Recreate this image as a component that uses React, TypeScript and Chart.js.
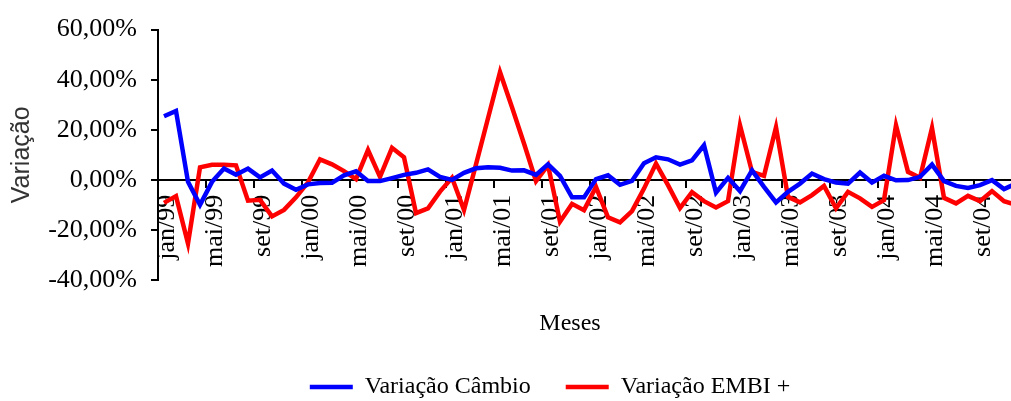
import React, { useEffect, useRef } from "react";
import { Chart, registerables } from "chart.js";

Chart.register(...registerables);

const categories = [
  "jan/99","fev/99","mar/99","abr/99","mai/99","jun/99","jul/99","ago/99","set/99","out/99","nov/99","dez/99",
  "jan/00","fev/00","mar/00","abr/00","mai/00","jun/00","jul/00","ago/00","set/00","out/00","nov/00","dez/00",
  "jan/01","fev/01","mar/01","abr/01","mai/01","jun/01","jul/01","ago/01","set/01","out/01","nov/01","dez/01",
  "jan/02","fev/02","mar/02","abr/02","mai/02","jun/02","jul/02","ago/02","set/02","out/02","nov/02","dez/02",
  "jan/03","fev/03","mar/03","abr/03","mai/03","jun/03","jul/03","ago/03","set/03","out/03","nov/03","dez/03",
  "jan/04","fev/04","mar/04","abr/04","mai/04","jun/04","jul/04","ago/04","set/04","out/04","nov/04","dez/04",
];

const variacaoCambio = [
  25.4, 27.5, -0.8, -10.0, -0.8, 4.5, 2.0, 4.5, 1.0, 3.7, -1.5, -4.0,
  -1.8, -1.3, -1.2, 1.8, 3.4, -0.5, -0.5, 0.7, 2.0, 2.8, 4.2, 1.2,
  0.0, 2.8, 4.6, 5.0, 4.8, 3.7, 3.8, 2.0, 6.2, 1.6, -7.0, -7.0,
  0.3, 1.8, -2.0, -0.4, 6.6, 9.0, 8.2, 6.1, 7.8, 13.8, -5.1, 0.8,
  -4.5, 3.8, -2.8, -9.0, -4.8, -1.5, 2.5, 0.3, -1.1, -1.5, 2.9, -1.1,
  1.6, -0.2, -0.1, 1.2, 6.1, -0.5, -2.4, -3.2, -2.1, -0.1, -3.7, -1.5,
];

const variacaoEmbi = [
  -9.2, -6.5, -25.4, 5.0, 6.0, 6.0, 5.8, -8.3, -8.0, -14.6, -12.0, -7.0,
  -1.0, 8.2, 6.2, 3.5, 0.3, 11.9, 1.2, 12.8, 9.0, -13.3, -11.4, -4.7,
  0.8, -12.1, 6.2, 24.6, 43.0, 29.0, 14.5, -0.5, 5.9, -16.7, -9.6, -12.1,
  -2.8, -15.0, -17.0, -12.5, -3.5, 6.5, -2.1, -11.3, -4.9, -8.5, -11.0, -8.5,
  21.8, 3.2, 1.6, 21.0, -6.8, -9.0, -6.1, -2.4, -11.4, -4.8, -7.4, -10.8,
  -8.1, 21.8, 3.2, 0.8, 20.7, -7.2, -9.4, -6.4, -8.5, -4.5, -8.5, -10.0,
];

const seriesNames = ["Variação Câmbio", "Variação EMBI +"];
const yTickValues = [-40, -20, 0, 20, 40, 60];
const xTitle = "Meses";
const yTitle = "Variação";

const serif = "'Liberation Serif', 'Times New Roman', serif";

const xTitlePlugin = {
  id: "xTitlePlugin",
  afterDraw(chart: any) {
    const ctx = chart.ctx;
    ctx.save();
    ctx.font = `24px ${serif}`;
    ctx.fillStyle = "#000";
    ctx.textAlign = "center";
    ctx.textBaseline = "middle";
    ctx.fillText(xTitle, 570, 324);
    ctx.restore();
  },
};

export default function App() {
  const canvasRef = useRef<HTMLCanvasElement | null>(null);

  useEffect(() => {
    if (!canvasRef.current) return;
    const chart = new Chart(canvasRef.current, {
      type: "line",
      data: {
        labels: categories,
        datasets: [
          {
            label: seriesNames[0],
            data: variacaoCambio,
            borderColor: "#0000FF",
            backgroundColor: "#0000FF",
            borderWidth: 4.5,
            pointRadius: 0,
            tension: 0,
            fill: false,
          },
          {
            label: seriesNames[1],
            data: variacaoEmbi,
            borderColor: "#FF0000",
            backgroundColor: "#FF0000",
            borderWidth: 4.5,
            pointRadius: 0,
            tension: 0,
            fill: false,
          },
        ],
      },
      options: {
        responsive: false,
        maintainAspectRatio: false,
        devicePixelRatio: 1,
        animation: false,
        layout: { padding: 0 },
        scales: {
          x: {
            type: "category",
            position: { y: 0 } as any,
            offset: true,
            grid: {
              offset: true,
              drawOnChartArea: false,
              drawTicks: true,
              tickLength: 7,
              lineWidth: 2,
              color: (c: any) => (c.index % 4 === 0 ? "#000" : "rgba(0,0,0,0)"),
            },
            border: { display: true, color: "#000", width: 2 },
            ticks: {
              autoSkip: false,
              minRotation: 90,
              maxRotation: 90,
              padding: 8,
              labelOffset: 3,
              color: "#000",
              font: { family: serif, size: 26 },
              callback: (_v: any, i: number) => (i % 4 === 0 ? categories[i] : ""),
            },
            afterFit: (s: any) => {
              s.height = 10;
            },
          },
          y: {
            type: "linear",
            position: "left",
            min: -40,
            max: 60,
            afterBuildTicks: (s: any) => {
              s.ticks = yTickValues.map((v) => ({ value: v }));
            },
            grid: {
              drawOnChartArea: false,
              drawTicks: true,
              tickLength: 7,
              lineWidth: 2,
              color: "#000",
            },
            border: { display: true, color: "#000", width: 2 },
            ticks: {
              padding: 14,
              color: "#000",
              font: { family: serif, size: 26 },
              callback: (v: any) => Number(v).toFixed(2).replace(".", ",") + "%",
            },
            title: {
              display: true,
              text: yTitle,
              color: "#333",
              font: { family: "'Liberation Sans', Arial, sans-serif", size: 25 },
              padding: { top: 7, bottom: 0 },
            },
            afterFit: (s: any) => {
              s.width = 158;
            },
          },
          yR: {
            type: "linear",
            position: "right",
            display: true,
            grid: { display: false },
            border: { display: false },
            ticks: { display: false },
            afterFit: (s: any) => {
              s.width = 78;
            },
          },
        },
        plugins: {
          tooltip: { enabled: false },
          legend: {
            display: true,
            position: "bottom",
            title: {
              display: true,
              text: " ",
              font: { size: 10 },
              padding: { top: 48, bottom: 0 },
            },
            labels: {
              usePointStyle: true,
              pointStyle: "line",
              pointStyleWidth: 43,
              padding: 35,
              color: "#000",
              font: { family: serif, size: 24 },
            },
          },
        },
      },
      plugins: [xTitlePlugin],
    });
    return () => chart.destroy();
  }, []);

  return (
    <div
      style={{
        position: "fixed",
        left: 0,
        top: 0,
        width: 1011,
        height: 401,
        overflow: "hidden",
        background: "#fff",
      }}
    >
      <canvas
        ref={canvasRef}
        width={1100}
        height={409}
        style={{ display: "block", width: 1100, height: 409 }}
      />
    </div>
  );
}
